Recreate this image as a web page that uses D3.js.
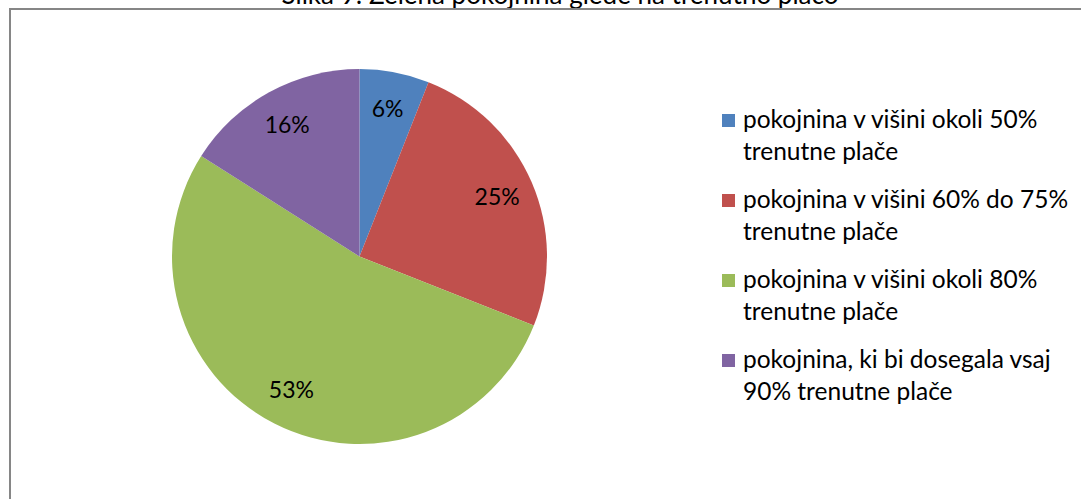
<!DOCTYPE html>
<html>
<head>
<meta charset="utf-8">
<script src="https://cdn.jsdelivr.net/npm/d3@7"></script>
<style>
  body { margin: 0; background: #fff; }
  svg { display: block; font-family: Lato, "Open Sans", sans-serif; }
</style>
</head>
<body>
<svg id="chart" width="1081" height="499"></svg>
<script>
// data
const categories = [
  ['pokojnina v višini okoli 50%', 'trenutne plače'],
  ['pokojnina v višini 60% do 75%', 'trenutne plače'],
  ['pokojnina v višini okoli 80%', 'trenutne plače'],
  ['pokojnina, ki bi dosegala vsaj', '90% trenutne plače']
];
const values = [6, 25, 53, 16];
const colors = ['#4F81BD', '#C0504D', '#9BBB59', '#8064A2'];
const title = 'Slika 9: Želena pokojnina glede na trenutno plačo';

const svg = d3.select('#chart');
const width = +svg.attr('width');
const height = +svg.attr('height');

// title (cut off at the top, as in the source image)
svg.append('text')
    .attr('x', 560)
    .attr('y', 4)
    .attr('text-anchor', 'middle')
    .style('font-size', '26px')
    .style('fill', '#000')
    .text(title);

// chart frame
svg.append('rect')
    .attr('x', 10)
    .attr('y', 9)
    .attr('width', width + 10)
    .attr('height', height + 10)
    .style('fill', '#fff')
    .style('stroke', '#868686')
    .style('stroke-width', 2);

// pie
const radius = 187.5;
const cx = 359.5, cy = 256.5;

const pie = d3.pie().sort(null).value(d => d);
const arc = d3.arc().innerRadius(0).outerRadius(radius);
const labelArc = d3.arc().innerRadius(radius * 0.8).outerRadius(radius * 0.8);

const g = svg.append('g')
    .attr('transform', 'translate(' + cx + ',' + cy + ')');

const arcs = pie(values);

g.selectAll('path')
    .data(arcs)
    .enter()
    .append('path')
    .attr('d', arc)
    .style('fill', (d, i) => colors[i]);

g.selectAll('text.label')
    .data(arcs)
    .enter()
    .append('text')
    .attr('class', 'label')
    .attr('transform', d => 'translate(' + labelArc.centroid(d) + ')')
    .attr('text-anchor', 'middle')
    .attr('dy', '0.35em')
    .style('font-size', '23px')
    .style('fill', '#000')
    .text(d => d.data + '%');

// legend
const legend = svg.append('g')
    .attr('transform', 'translate(722,0)');

const item = legend.selectAll('g')
    .data(categories)
    .enter()
    .append('g')
    .attr('transform', (d, i) => 'translate(0,' + (128 + i * 80) + ')');

item.append('rect')
    .attr('x', 0)
    .attr('y', -14)
    .attr('width', 13)
    .attr('height', 13)
    .style('fill', (d, i) => colors[i]);

item.selectAll('text')
    .data(d => d)
    .enter()
    .append('text')
    .attr('x', 21)
    .attr('y', (d, i) => i * 32)
    .style('font-size', '24.5px')
    .style('fill', '#000')
    .text(d => d);
</script>
</body>
</html>
